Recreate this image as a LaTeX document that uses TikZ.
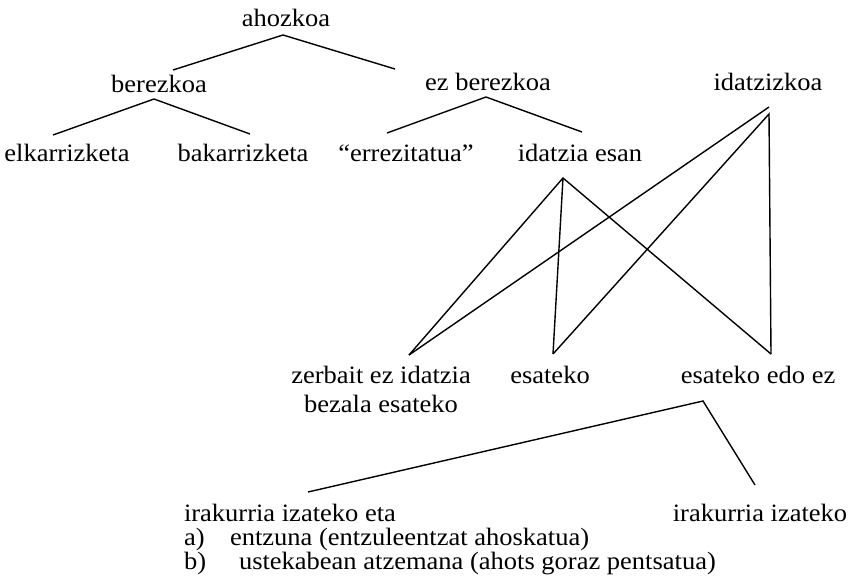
\documentclass[tikz,border=0pt]{standalone}
\usepackage{fontspec}
\setmainfont[FakeStretch=1.06]{Liberation Serif}
\begin{document}
\begin{tikzpicture}[x=1pt,y=-1pt,
  lbl/.style={inner sep=0pt, outer sep=0pt, anchor=base, font=\fontsize{25}{28}\selectfont},
  lblw/.style={lbl, anchor=base west},
  link/.style={line width=1.4pt, line join=miter}]
\useasboundingbox (0,0) rectangle (853,586);
% labels
\node[lbl] (ahozkoa) at (286,27) {ahozkoa};
\node[lbl] (berezkoa) at (159,92) {berezkoa};
\node[lbl] (ezberezkoa) at (488,90) {ez berezkoa};
\node[lbl] (idatzizkoa) at (768,90) {idatzizkoa};
\node[lbl] (elkar) at (67,161) {elkarrizketa};
\node[lbl] (bakar) at (243,161) {bakarrizketa};
\node[lbl] (errez) at (406,161) {“errezitatua”};
\node[lbl] (idesan) at (580,161) {idatzia esan};
\node[lbl] (zerbait) at (381,383) {zerbait ez idatzia};
\node[lbl] (bezala) at (381,412) {bezala esateko};
\node[lbl] (esateko) at (550,383) {esateko};
\node[lbl] (edoez) at (758,383) {esateko edo ez};
\node[lblw] (iraketa) at (184,521) {irakurria izateko eta};
\node[lbl] (irak) at (760,521) {irakurria izateko};
\node[lblw] (amark) at (184,545) {a)};
\node[lblw] (atext) at (230,545) {entzuna (entzuleentzat ahoskatua)};
\node[lblw] (bmark) at (184,569) {b)};
\node[lblw] (btext) at (239,569) {ustekabean atzemana (ahots goraz pentsatua)};
% branch points
\coordinate (pA) at (283,35);
\coordinate (pAl) at (173,70);
\coordinate (pAr) at (395,69);
\coordinate (pB) at (154,99);
\coordinate (pBl) at (53,135);
\coordinate (pBr) at (250,134);
\coordinate (pE) at (486,97);
\coordinate (pEl) at (387,133);
\coordinate (pEr) at (582,132);
\coordinate (pI) at (769,107);
\coordinate (pI2) at (769,114);
\coordinate (pS) at (563,178);
\coordinate (pZ) at (409,355);
\coordinate (pC) at (553,354);
\coordinate (pD) at (771,354);
\coordinate (pL) at (703,401);
\coordinate (pLl) at (308,492);
\coordinate (pLr) at (755,485);
% connectors
\draw[link] (pAl) -- (pA) -- (pAr);
\draw[link] (pBl) -- (pB) -- (pBr);
\draw[link] (pEl) -- (pE) -- (pEr);
\draw[link] (pZ) -- (pI);
\draw[link] (pC) -- (pI2) -- (pD);
\draw[link] (pZ) -- (pS) -- (pD);
\draw[link] (pS) -- (pC);
\draw[link] (pLl) -- (pL) -- (pLr);
\end{tikzpicture}
\end{document}
